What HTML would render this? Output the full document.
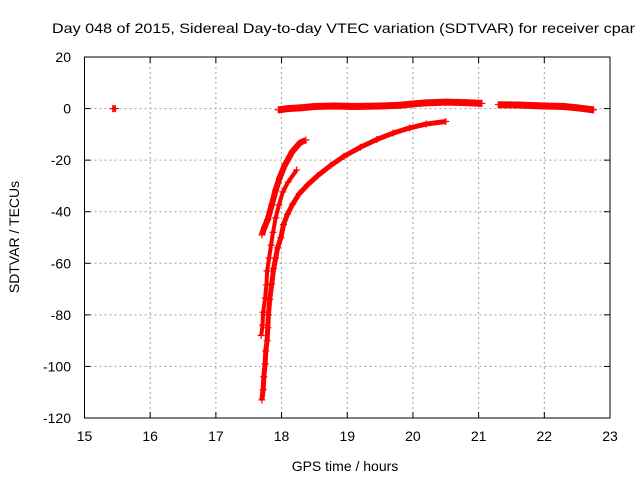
<!DOCTYPE html>
<html><head><meta charset="utf-8"><style>
html,body{margin:0;padding:0;background:#fff;overflow:hidden;}
svg{display:block;font-family:"Liberation Sans",sans-serif;}
</style></head><body>
<svg id="chart" width="640" height="480">
<text x="52" y="33" font-size="14" textLength="583" lengthAdjust="spacingAndGlyphs">Day 048 of 2015, Sidereal Day-to-day VTEC variation (SDTVAR) for receiver cpar</text>
<g id="grid"></g>
<g id="axes"></g>
<g id="marks"></g>
<text x="345" y="471" font-size="14" text-anchor="middle">GPS time / hours</text>
<text x="19" y="237" font-size="14" text-anchor="middle" transform="rotate(-90 19 237)">SDTVAR / TECUs</text>
</svg>
<script>
const xTicks=[15,16,17,18,19,20,21,22,23];
const yTicks=[20,0,-20,-40,-60,-80,-100,-120];
const aX=[17.70,17.72,17.73,17.75,17.76,17.78,17.79,17.80,17.82,17.85,17.88,17.91,17.94,17.99,18.03,18.09,18.17,18.27,18.40,18.55,18.75,18.95,19.2,19.45,19.7,19.95,20.2,20.5];
const aY=[-113,-109,-104,-99,-94,-90,-85,-80,-74,-68,-62,-58,-54,-50,-45,-41,-37,-33,-29.5,-26,-22,-18.5,-15,-12,-9.5,-7.5,-6,-5];
const bX=[17.69,17.71,17.72,17.75,17.77,17.78,17.81,17.84,17.87,17.91,17.96,18.02,18.10,18.23];
const bY=[-88,-84,-79,-73.5,-68.4,-63,-58,-53,-48,-42.4,-37.4,-32.3,-28.5,-23.8];
const cX=[17.70,17.74,17.79,17.85,17.91,17.97,18.05,18.16,18.28,18.37];
const cY=[-49,-46,-43,-37.4,-31.6,-26.9,-21.9,-16.8,-13.3,-12.2];
const dX=[17.95,18.1,18.3,18.5,18.8,19.1,19.5,19.8,20.0,20.2,20.5,20.8,21.05];
const dY=[-0.5,0,0.3,0.8,1,0.8,1,1.3,1.8,2.2,2.5,2.3,2];
const eX=[21.3,21.6,22.0,22.3,22.5,22.75];
const eY=[1.5,1.4,1.0,0.8,0.3,-0.5];
const fX=[15.43,15.45,15.47];
const fY=[0,0,0];
const L=84.5,R=610,T=57,B=418;
const sx=v=>L+(v-15)/8*(R-L), sy=v=>T+(20-v)/140*(B-T);
const NS='http://www.w3.org/2000/svg';
function mk(t,a,p){const e=document.createElementNS(NS,t);for(const k in a)e.setAttribute(k,a[k]);p.appendChild(e);return e;}
const grid=document.getElementById('grid'),axes=document.getElementById('axes'),marks=document.getElementById('marks');
xTicks.forEach(v=>{const x=sx(v);
 if(v>15&&v<23){const g=mk('line',{x1:x,x2:x,y1:T,y2:B,stroke:'#a0a0a0','stroke-dasharray':'2,3'},grid);}
 const t=mk('line',{x1:x,x2:x,y1:B,y2:B-6,stroke:'#000'},axes);
 const t2=mk('line',{x1:x,x2:x,y1:T,y2:T+6,stroke:'#000'},axes);
 const l=mk('text',{x:x,y:B+23,'font-size':14,'text-anchor':'middle'},axes);l.textContent=v;});
yTicks.forEach(v=>{const y=sy(v);
 if(v<20&&v>-120){const g=mk('line',{x1:L,x2:R,y1:y,y2:y,stroke:'#a0a0a0','stroke-dasharray':'2,3'},grid);}
 const t=mk('line',{x1:L,x2:L+6,y1:y,y2:y,stroke:'#000'},axes);
 const t2=mk('line',{x1:R,x2:R-6,y1:y,y2:y,stroke:'#000'},axes);
 const l=mk('text',{x:71,y:y+5,'font-size':14,'text-anchor':'end'},axes);l.textContent=v;});
const fr=mk('rect',{x:L,y:T,width:R-L,height:B-T,fill:'none',stroke:'#000'},axes);

function series(xs,ys,name,w){
 const pts=xs.map((x,i)=>sx(x)+','+sy(ys[i])).join(' ');
 const pl=mk('polyline',{points:pts,fill:'none',stroke:'#f00','stroke-width':w,'stroke-linejoin':'round'},marks);
 
 xs.forEach((x,i)=>{const X=sx(x),Y=sy(ys[i]);
  const p=mk('path',{d:`M${X-3.5},${Y}h7M${X},${Y-3.5}v7`,stroke:'#f00','stroke-width':1.2},marks);
  });
}
series(aX,aY,'long-arc',5);
series(bX,bY,'middle-arc',4);
series(cX,cY,'short-arc',6);
series(dX,dY,'flat-arc-1',7);
series(eX,eY,'flat-arc-2',7);
series(fX,fY,'isolated-point',3);
</script>
</body></html>
